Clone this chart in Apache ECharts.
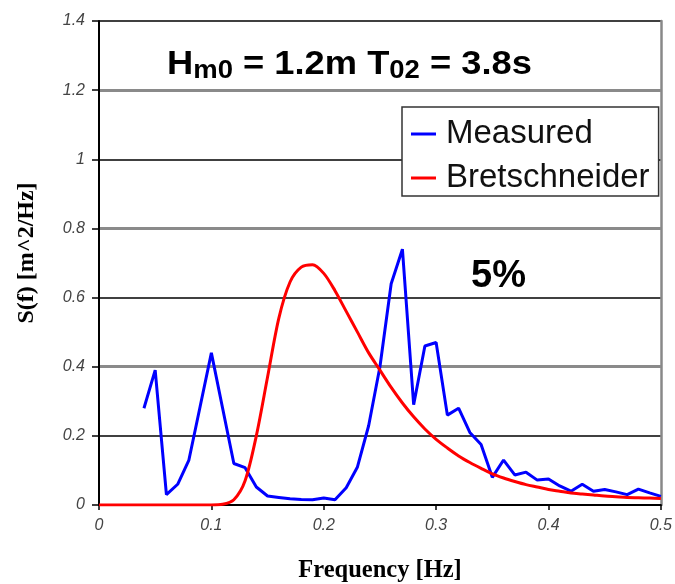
<!DOCTYPE html>
<html><head><meta charset="utf-8">
<script src="https://cdn.jsdelivr.net/npm/echarts@6/dist/echarts.min.js"></script>
<style>html,body{margin:0;padding:0;background:#fff}#c{width:675px;height:584px}</style>
</head><body><div id="c"></div>
<script>
var measuredFreq = [0.04,0.05,0.06,0.07,0.08,0.09,0.10,0.11,0.12,0.13,0.14,0.15,0.16,0.17,0.18,0.19,0.20,0.21,0.22,0.23,0.24,0.25,0.26,0.27,0.28,0.29,0.30,0.31,0.32,0.33,0.34,0.35,0.36,0.37,0.38,0.39,0.40,0.41,0.42,0.43,0.44,0.45,0.46,0.47,0.48,0.49,0.50];
var measuredS = [0.28,0.39,0.03,0.06,0.13,0.285,0.44,0.28,0.12,0.108,0.052,0.026,0.022,0.018,0.016,0.015,0.02,0.015,0.05,0.11,0.23,0.40,0.64,0.74,0.29,0.46,0.47,0.26,0.28,0.21,0.175,0.08,0.13,0.087,0.095,0.072,0.075,0.055,0.04,0.06,0.04,0.045,0.038,0.03,0.046,0.035,0.025];
var bretFreq = [0,0.01,0.02,0.03,0.04,0.05,0.06,0.07,0.08,0.09,0.10,0.11,0.12,0.13,0.14,0.15,0.16,0.17,0.18,0.19,0.20,0.21,0.22,0.23,0.24,0.25,0.26,0.27,0.28,0.29,0.30,0.31,0.32,0.33,0.34,0.35,0.36,0.37,0.38,0.39,0.40,0.41,0.42,0.43,0.44,0.45,0.46,0.47,0.48,0.49,0.50];
var bretS = [0,0,0,0,0,0,0,0,0,0,0,0.002,0.015,0.07,0.2,0.37,0.54,0.645,0.688,0.695,0.67,0.62,0.56,0.50,0.44,0.39,0.34,0.295,0.255,0.22,0.19,0.165,0.142,0.123,0.106,0.09,0.078,0.068,0.059,0.052,0.045,0.04,0.035,0.032,0.029,0.026,0.024,0.022,0.021,0.02,0.019];
var seriesNames = ['Measured','Bretschneider'];
var titleParts = ['H','m0',' = 1.2m T','02',' = 3.8s'];
var noteText = '5%';
var xName = 'Frequency [Hz]';
var yName = 'S(f) [m^2/Hz]';

function pairs(xs, ys){ return xs.map(function(x,i){return [x, ys[i]];}); }

var SANS = 'Liberation Sans, Arial, sans-serif';
var SERIF = 'Liberation Serif, Times New Roman, serif';
var chart = echarts.init(document.getElementById('c'), null, {renderer:'canvas'});
var tickFont = {color:'#444', fontStyle:'italic', fontFamily:SANS, fontSize:16};
chart.setOption({
  animation:false,
  backgroundColor:'#fff',
  grid:{left:99, right:13, top:21, bottom:79, containLabel:false},
  xAxis:{type:'value', min:0, max:0.5, interval:0.1,
    axisLine:{show:true, onZero:false, lineStyle:{color:'#000', width:2}},
    axisTick:{show:true, length:5, lineStyle:{color:'#000', width:1.5}},
    axisLabel:Object.assign({margin:13, formatter:function(v){return String(+v.toFixed(1));}}, tickFont),
    splitLine:{show:false}},
  yAxis:[{type:'value', min:0, max:1.4, interval:0.2, position:'left',
    axisLine:{show:true, lineStyle:{color:'#000', width:2}},
    axisTick:{show:true, length:7, lineStyle:{color:'#000', width:1.5}},
    axisLabel:Object.assign({margin:14, formatter:function(v){return String(+v.toFixed(1));}}, tickFont),
    splitLine:{show:true, lineStyle:{width:1.5, color:['transparent','#000','transparent','#000','transparent','#000','transparent','#000']}}},
   {type:'value', min:0, max:1.4, interval:0.4, position:'right',
    axisLine:{show:true, lineStyle:{color:'#888', width:2.5}},
    axisTick:{show:false}, axisLabel:{show:false},
    splitLine:{show:true, lineStyle:{width:3, color:['transparent','#8a8a8a','#8a8a8a','#8a8a8a']}}}],
  legend:{show:true, orient:'vertical', left:402, top:107,
    backgroundColor:'#fff', borderColor:'#333', borderWidth:1.5, padding:[9,9,0,9],
    itemGap:8, itemWidth:25, itemHeight:3, icon:'rect',
    textStyle:{fontFamily:SANS, fontSize:33, lineHeight:36, color:'#111', padding:[0,0,0,5]},
    data:seriesNames},
  series:[
    {name:seriesNames[0], type:'line', data:pairs(measuredFreq, measuredS), symbol:'none', smooth:false,
     lineStyle:{color:'#0000ff', width:3}, itemStyle:{color:'#0000ff'}, z:3},
    {name:seriesNames[1], type:'line', data:pairs(bretFreq, bretS), symbol:'none', smooth:0.3,
     lineStyle:{color:'#ff0000', width:3}, itemStyle:{color:'#ff0000'}, z:4}
  ],
  graphic:[
    {type:'text', x:167, y:48, scaleX:1.1, z:10, style:{
      text:'{b|'+titleParts[0]+'}{s|'+titleParts[1]+'}{b|'+titleParts[2]+'}{s|'+titleParts[3]+'}{b|'+titleParts[4]+'}',
      rich:{b:{fontSize:33, fontWeight:'bold', fontFamily:SANS, fill:'#000', lineHeight:36, verticalAlign:'top'},
            s:{fontSize:25, fontWeight:'bold', fontFamily:SANS, fill:'#000', lineHeight:7, verticalAlign:'bottom'}}}},
    {type:'text', x:471, y:277, z:10, style:{text:noteText, fontSize:38, fontWeight:'bold', fontFamily:SANS, fill:'#000', verticalAlign:'middle'}},
    {type:'text', x:380, y:571, z:10, style:{text:xName, fontSize:24.5, fontWeight:'bold', fontFamily:SERIF, fill:'#000', align:'center', verticalAlign:'middle'}},
    {type:'text', x:27, y:253, rotation:Math.PI/2, z:10, style:{text:yName, fontSize:24, fontWeight:'bold', fontFamily:SERIF, fill:'#000', align:'center', verticalAlign:'middle'}}
  ]
});
</script></body></html>
